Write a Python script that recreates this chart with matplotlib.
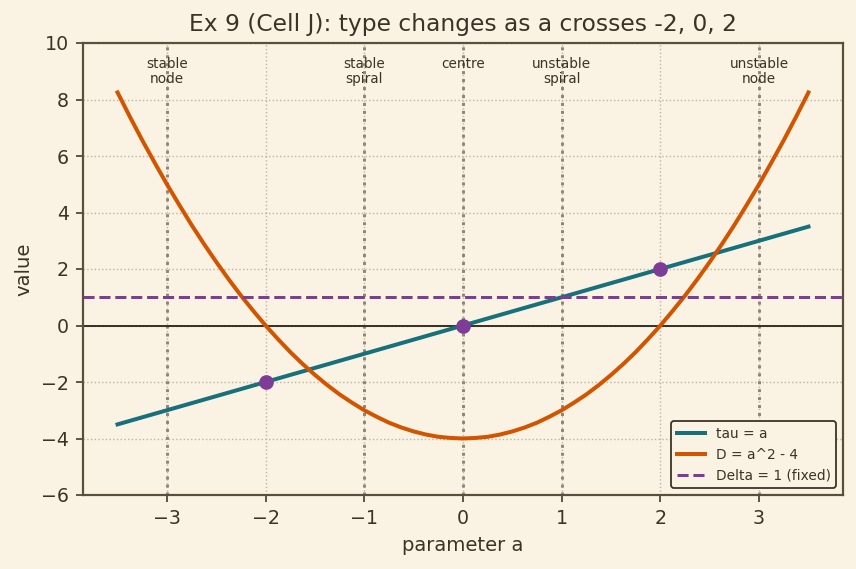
import matplotlib
matplotlib.use("Agg")
import matplotlib.pyplot as plt

a_vals = [-3.5, -3.375, -3.25, -3.125, -3.0, -2.875, -2.75, -2.625, -2.5, -2.375, -2.25, -2.125, -2.0,
          -1.875, -1.75, -1.625, -1.5, -1.375, -1.25, -1.125, -1.0, -0.875, -0.75, -0.625, -0.5, -0.375,
          -0.25, -0.125, 0.0, 0.125, 0.25, 0.375, 0.5, 0.625, 0.75, 0.875, 1.0, 1.125, 1.25, 1.375, 1.5,
          1.625, 1.75, 1.875, 2.0, 2.125, 2.25, 2.375, 2.5, 2.625, 2.75, 2.875, 3.0, 3.125, 3.25, 3.375, 3.5]
D_vals = [8.25, 7.39, 6.56, 5.77, 5.0, 4.27, 3.56, 2.89, 2.25, 1.64, 1.06, 0.52, 0.0,
          -0.48, -0.94, -1.36, -1.75, -2.11, -2.44, -2.73, -3.0, -3.23, -3.44, -3.61, -3.75, -3.86,
          -3.94, -3.98, -4.0, -3.98, -3.94, -3.86, -3.75, -3.61, -3.44, -3.23, -3.0, -2.73, -2.44, -2.11, -1.75,
          -1.36, -0.94, -0.48, 0.0, 0.52, 1.06, 1.64, 2.25, 2.89, 3.56, 4.27, 5.0, 5.77, 6.56, 7.39, 8.25]
tau_a = [-3.5, 3.5]
tau_vals = [-3.5, 3.5]
delta_value = 1.0
bif_a = [-2, 0, 2]
bif_tau = [-2, 0, 2]
region_x = [-3, -1, 0, 1, 3]
region_labels = ["stable\nnode", "stable\nspiral", "centre", "unstable\nspiral", "unstable\nnode"]

bg = "#faf3e3"
txt = "#3b3326"
plt.rcParams.update({
    "font.family": "DejaVu Sans",
    "text.color": txt,
    "axes.labelcolor": txt,
    "xtick.color": txt,
    "ytick.color": txt,
    "axes.edgecolor": "#5a4e3c",
    "axes.linewidth": 1.1,
})

fig = plt.figure(figsize=(856/144, 569/144), dpi=144, facecolor=bg)
ax = fig.add_axes([83/856, 1-495/569, (843-83)/856, (495-43)/569])
ax.set_facecolor(bg)

ax.grid(True, linestyle=":", color="#bdb4a3", linewidth=0.7)
ax.set_axisbelow(True)

for x in region_x:
    ax.axvline(x, color="#8f877a", linestyle=":", linewidth=1.5, zorder=1)

ax.axhline(0, color="#3b3326", linewidth=1.0, zorder=2)

ax.plot(tau_a, tau_vals, color="#17707c", linewidth=2.0, label="tau = a", zorder=3)
ax.plot(a_vals, D_vals, color="#d35400", linewidth=2.0, label="D = a^2 - 4", zorder=3)
ax.axhline(delta_value, color="#7d3c98", linestyle="--", linewidth=1.5, label="Delta = 1 (fixed)", zorder=3)
ax.scatter(bif_a, bif_tau, color="#7d3c98", s=40, zorder=5)

for x, lab in zip(region_x, region_labels):
    ax.text(x, 9.5, lab, ha="center", va="top", fontsize=6.8, color="#3b3326", linespacing=1.1)

ax.set_xlim(-3.85, 3.85)
ax.set_ylim(-6, 10)
ax.set_xticks([-3, -2, -1, 0, 1, 2, 3])
ax.set_yticks([-6, -4, -2, 0, 2, 4, 6, 8, 10])
ax.set_xticklabels(["\u22123", "\u22122", "\u22121", "0", "1", "2", "3"])
ax.set_yticklabels(["\u22126", "\u22124", "\u22122", "0", "2", "4", "6", "8", "10"])
ax.tick_params(labelsize=9.5)
ax.set_xlabel("parameter a", fontsize=9.8)
ax.set_ylabel("value", fontsize=9.8)
ax.set_title("Ex 9 (Cell J): type changes as a crosses -2, 0, 2", fontsize=11.7, color=txt)

leg = ax.legend(loc="lower right", fontsize=6.9, facecolor=bg, edgecolor="#3b3326", framealpha=1)
leg.get_frame().set_linewidth(0.9)

fig.savefig("out.png", dpi=144, facecolor=bg)
